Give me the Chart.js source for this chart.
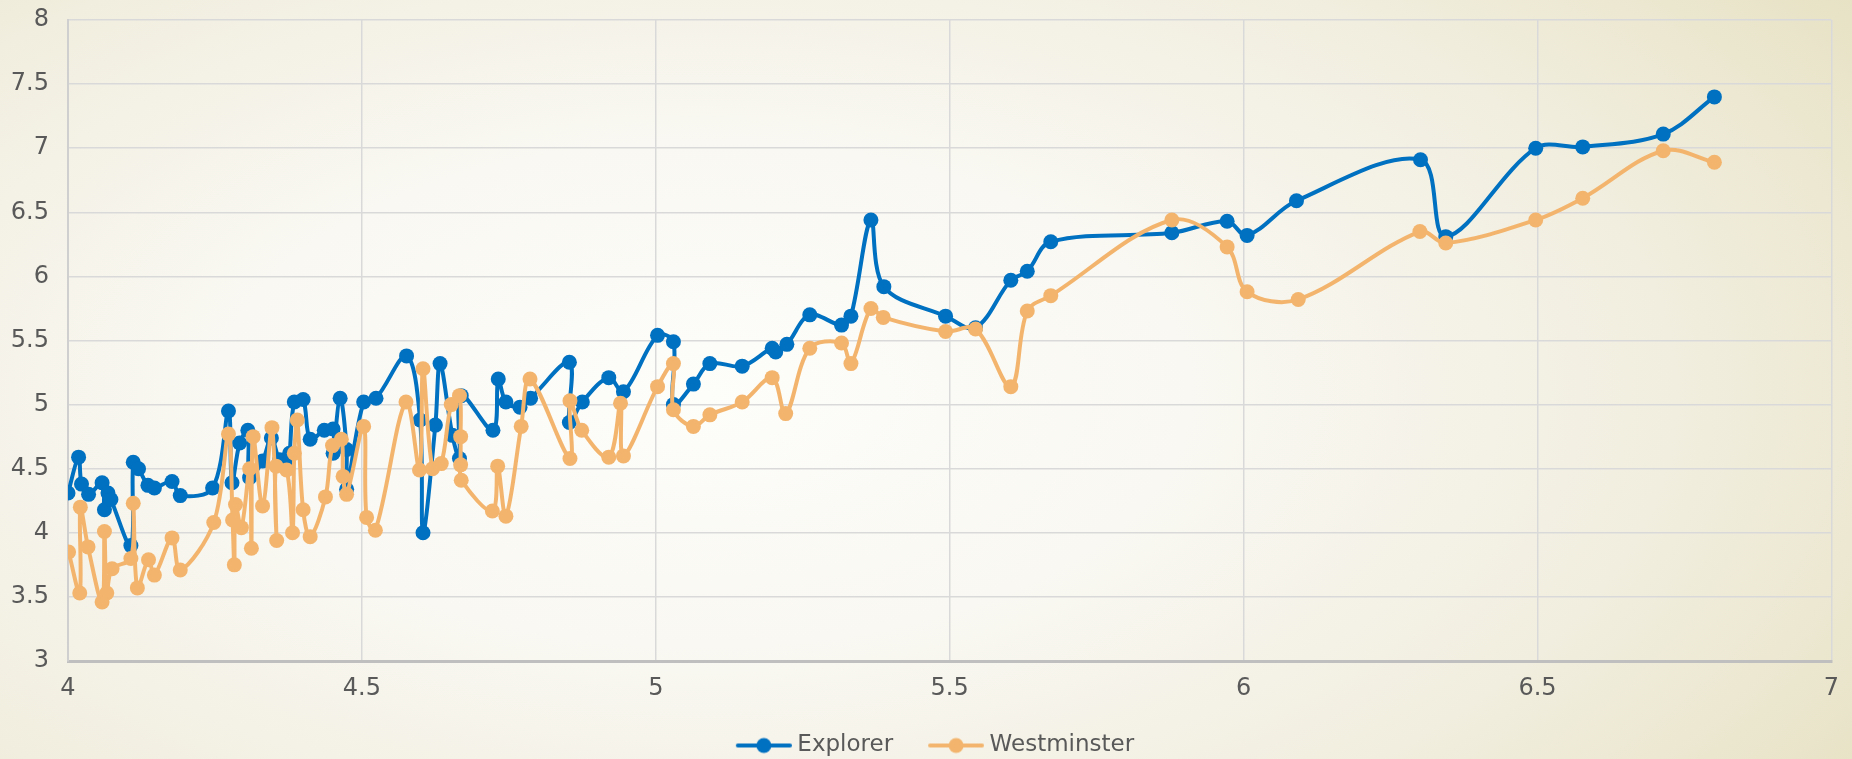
<!DOCTYPE html>
<html>
<head>
<meta charset="utf-8">
<script src="https://cdn.jsdelivr.net/npm/chart.js@4"></script>
<style>
    html, body {
        margin: 0;
        padding: 0;
        width: 1852px;
        height: 759px;
        overflow: hidden;
        background: radial-gradient(ellipse 75% 95% at 38% 52%, #fdfdfa 0%, #f9f8f2 35%, #f1eedf 70%, #e7e2c4 100%);
    }
    canvas { display: block; }
</style>
</head>
<body>
<canvas id="chartjs-scatter" width="1852" height="759"></canvas>
<script>
// values
var seriesNames = ['Explorer', 'Westminster'];

var xExplorer = [4.000, 4.018, 4.023, 4.035, 4.058, 4.062, 4.068, 4.073, 4.107, 4.111,
    4.120, 4.136, 4.147, 4.177, 4.191, 4.246, 4.273, 4.279, 4.292, 4.306,
    4.309, 4.331, 4.346, 4.360, 4.374, 4.377, 4.385, 4.400, 4.412, 4.436,
    4.451, 4.451, 4.463, 4.474, 4.474, 4.503, 4.524, 4.576, 4.599, 4.604,
    4.625, 4.633, 4.654, 4.666, 4.669, 4.723, 4.732, 4.745, 4.769, 4.787,
    4.853, 4.853, 4.875, 4.920, 4.945, 5.003, 5.030, 5.030, 5.064, 5.092,
    5.147, 5.198, 5.204, 5.223, 5.262, 5.316, 5.332, 5.366, 5.388, 5.493,
    5.544, 5.604, 5.632, 5.672, 5.878, 5.972, 6.006, 6.090, 6.301, 6.344,
    6.497, 6.577, 6.714, 6.801];
var yExplorer = [4.31, 4.59, 4.38, 4.30, 4.39, 4.18, 4.31, 4.26, 3.90, 4.55,
    4.50, 4.37, 4.35, 4.40, 4.29, 4.35, 4.95, 4.39, 4.70, 4.80,
    4.43, 4.56, 4.74, 4.57, 4.55, 4.62, 5.02, 5.04, 4.73, 4.80,
    4.81, 4.62, 5.05, 4.65, 4.34, 5.02, 5.05, 5.38, 4.88, 4.00,
    4.84, 5.32, 4.76, 4.58, 5.07, 4.80, 5.20, 5.02, 4.98, 5.05,
    5.33, 4.86, 5.02, 5.21, 5.10, 5.54, 5.49, 5.00, 5.16, 5.32,
    5.30, 5.44, 5.41, 5.47, 5.70, 5.62, 5.69, 6.44, 5.92, 5.69,
    5.60, 5.97, 6.04, 6.27, 6.34, 6.43, 6.32, 6.59, 6.91, 6.31,
    7.00, 7.01, 7.11, 7.40];

var xWestminster = [4.001, 4.020, 4.021, 4.034, 4.058, 4.062, 4.066, 4.075, 4.107, 4.111,
    4.118, 4.137, 4.147, 4.177, 4.191, 4.248, 4.273, 4.280, 4.283, 4.285,
    4.295, 4.309, 4.312, 4.315, 4.331, 4.347, 4.355, 4.354, 4.372, 4.382,
    4.385, 4.390, 4.400, 4.412, 4.438, 4.450, 4.465, 4.468, 4.474, 4.503,
    4.508, 4.523, 4.575, 4.598, 4.604, 4.620, 4.635, 4.652, 4.666, 4.668,
    4.668, 4.669, 4.722, 4.731, 4.745, 4.771, 4.786, 4.854, 4.854, 4.874,
    4.920, 4.940, 4.945, 5.003, 5.030, 5.030, 5.064, 5.092, 5.147, 5.198,
    5.221, 5.262, 5.316, 5.332, 5.366, 5.387, 5.493, 5.544, 5.604, 5.632,
    5.672, 5.878, 5.972, 6.006, 6.093, 6.300, 6.344, 6.497, 6.577, 6.714,
    6.801];
var yWestminster = [3.85, 3.53, 4.20, 3.89, 3.46, 4.01, 3.53, 3.72, 3.80, 4.23,
    3.57, 3.79, 3.67, 3.96, 3.71, 4.08, 4.77, 4.10, 3.75, 4.22,
    4.04, 4.50, 3.88, 4.75, 4.21, 4.82, 3.94, 4.52, 4.49, 4.00,
    4.62, 4.88, 4.18, 3.97, 4.28, 4.68, 4.73, 4.44, 4.30, 4.83,
    4.12, 4.02, 5.02, 4.49, 5.28, 4.50, 4.54, 5.00, 5.07, 4.75,
    4.53, 4.41, 4.17, 4.52, 4.13, 4.83, 5.20, 4.58, 5.03, 4.80,
    4.59, 5.01, 4.60, 5.14, 5.32, 4.96, 4.83, 4.92, 5.02, 5.21,
    4.93, 5.44, 5.48, 5.32, 5.75, 5.68, 5.57, 5.59, 5.14, 5.73,
    5.85, 6.44, 6.23, 5.88, 5.82, 6.35, 6.26, 6.44, 6.61, 6.98,
    6.89];

var xMin = 4, xMax = 7, xStep = 0.5;
var yMin = 3, yMax = 8, yStep = 0.5;

var blue = '#0070c0';
var orange = '#f3b56e';
var textColor = '#595959';
var gridColor = '#d9d9d9';

function toPoints(xs, ys) {
    return xs.map(function (x, i) { return { x: x, y: ys[i] }; });
}

// legend marker: a short line with a dot, with room on the left as a gap
var iconBox = 80;
function legendIcon(color) {
    var c = document.createElement('canvas');
    c.width = iconBox + 12;
    c.height = 18;
    var g = c.getContext('2d');
    g.strokeStyle = color;
    g.lineWidth = 4;
    g.lineCap = 'round';
    g.beginPath();
    g.moveTo(38, 9);
    g.lineTo(90, 9);
    g.stroke();
    g.fillStyle = color;
    g.beginPath();
    g.arc(64, 9, 7.5, 0, Math.PI * 2);
    g.fill();
    return c;
}
var icons = [legendIcon(blue), legendIcon(orange)];

Chart.defaults.font.family = '"DejaVu Sans", sans-serif';
Chart.defaults.font.size = 24;
Chart.defaults.color = textColor;

var ctx = document.getElementById('chartjs-scatter');

var chart = new Chart(ctx, {
    type: 'scatter',
    data: {
        datasets: [
            {
                label: seriesNames[0],
                data: toPoints(xExplorer, yExplorer),
                showLine: true,
                tension: 0.35,
                borderColor: blue,
                backgroundColor: blue,
                borderWidth: 4,
                pointRadius: 7.5,
                pointHoverRadius: 7.5,
                pointBorderWidth: 0,
                order: 1
            },
            {
                label: seriesNames[1],
                data: toPoints(xWestminster, yWestminster),
                showLine: true,
                tension: 0.35,
                borderColor: orange,
                backgroundColor: orange,
                borderWidth: 4,
                pointRadius: 7.5,
                pointHoverRadius: 7.5,
                pointBorderWidth: 0,
                order: 0
            }
        ]
    },
    options: {
        responsive: false,
        maintainAspectRatio: false,
        devicePixelRatio: 1,
        animation: false,
        layout: {
            padding: { left: 0, right: 12, top: 20, bottom: -8 }
        },
        plugins: {
            tooltip: { enabled: false },
            legend: {
                position: 'bottom',
                labels: {
                    usePointStyle: true,
                    pointStyleWidth: iconBox,
                    padding: 5,
                    color: textColor,
                    font: { size: 23 },
                    sort: function (a, b) { return a.datasetIndex - b.datasetIndex; },
                    generateLabels: function (chart) {
                        var items = Chart.defaults.plugins.legend.labels.generateLabels(chart);
                        items.forEach(function (it) {
                            it.pointStyle = icons[it.datasetIndex];
                        });
                        return items;
                    }
                }
            }
        },
        scales: {
            x: {
                type: 'linear',
                min: xMin,
                max: xMax,
                afterFit: function (s) { s.height = 68; },
                ticks: {
                    stepSize: xStep,
                    padding: 13,
                    color: textColor,
                    callback: function (v) { return String(v); }
                },
                grid: { color: gridColor, lineWidth: 1.5, drawTicks: false },
                border: { color: '#bfbfbf', width: 3 }
            },
            y: {
                type: 'linear',
                min: yMin,
                max: yMax,
                afterFit: function (s) { s.width = 68; },
                ticks: {
                    stepSize: yStep,
                    padding: 19,
                    color: textColor,
                    font: { size: 24, lineHeight: 0.01 },
                    callback: function (v) { return String(v); }
                },
                grid: { color: gridColor, lineWidth: 1.5, drawTicks: false },
                border: { color: '#cfcfcf', width: 2 }
            }
        }
    }
});
</script>
</body>
</html>
